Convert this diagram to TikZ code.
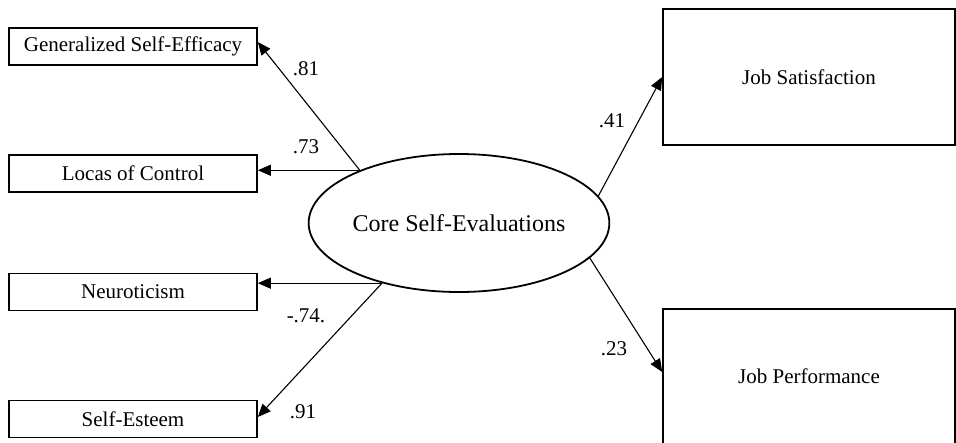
\documentclass[tikz,border=0pt]{standalone}
\usepackage{fontspec}
\setmainfont{Liberation Serif}
\usetikzlibrary{arrows.meta,shapes.geometric}

\begin{document}
\begin{tikzpicture}[x=1pt,y=-1pt,font=\fontsize{21}{25}\selectfont,
  factor/.style={draw,line width=1.6pt,minimum width=248pt,minimum height=37pt,inner sep=0pt},
  outcome/.style={draw,line width=1.6pt,minimum width=292pt,minimum height=136pt,inner sep=0pt},
  latent/.style={draw,ellipse,line width=1.8pt,minimum width=282pt,minimum height=138pt,inner sep=0pt,font=\fontsize{24}{28}\selectfont},
  path/.style={line width=1.1pt,-{Triangle[length=13pt,width=11pt]}},
  coef/.style={inner sep=0pt}]
\useasboundingbox (0,0) rectangle (956,442);
\node[factor] (gse) at (133,46.5){Generalized Self-Efficacy};
\node[factor] (loc) at (133,173.5){Locas of Control};
\node[factor] (neuro) at (133,292){Neuroticism};
\node[factor] (esteem) at (133,419){Self-Esteem};
\node[latent] (core) at (459,223){Core Self-Evaluations};
\node[outcome] (jobsat) at (809,77){Job Satisfaction};
\node[outcome,text depth=0pt] (jobperf) at (809,377){\raisebox{2pt}{Job Performance}};
% loadings and paths
\draw[path] (core.152) -- ([yshift=4.5pt]gse.east);
\draw[path] (core.152) -- (core.152 -| loc.east);
\draw[path] (core.218) -- (core.218 -| neuro.east);
\draw[path] (core.218) -- ([yshift=2pt]esteem.east);
\draw[path] (core.11.5) -- (jobsat.west);
\draw[path] (core.-15) -- ([yshift=5pt]jobperf.west);
\node[coef] (l81) at (306,69){.81};
\node[coef] (l73) at (306,147){.73};
\node[coef] (l74) at (306,316){-.74.};
\node[coef] (l91) at (303,412){.91};
\node[coef] (l41) at (612,121){.41};
\node[coef] (l23) at (614,349){.23};
\end{tikzpicture}
\end{document}
